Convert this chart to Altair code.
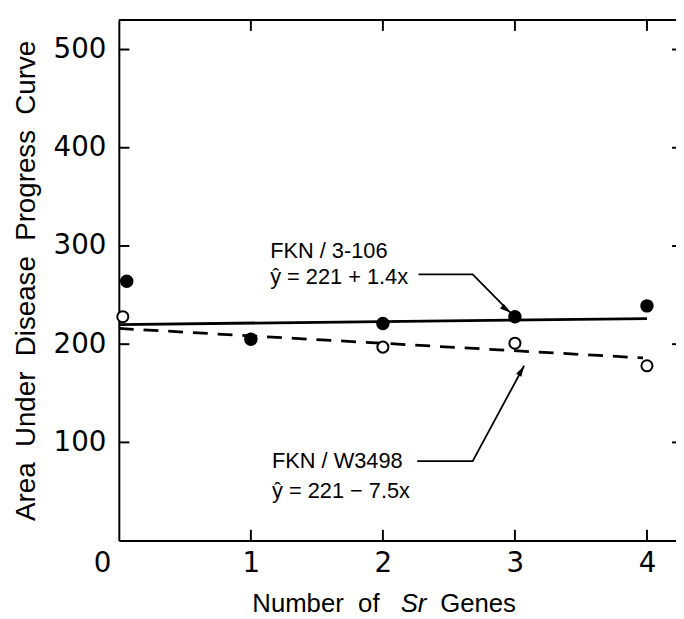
import altair as alt
import pandas as pd

# ---- data ----
genes_filled = [0.06, 1, 2, 3, 4]
auc_filled = [264, 205, 221, 228, 239]
genes_open = [0.03, 2, 3, 4]
auc_open = [228, 197, 201, 178]

solid_x = [0, 4]
solid_y = [220, 226]
dashed_x = [0, 3.97]
dashed_y = [216, 186]

x_ticks = [0, 1, 2, 3, 4]
y_ticks = [100, 200, 300, 400, 500]

ann_text = ["FKN / 3-106", "ŷ = 221 + 1.4x", "FKN / W3498", "ŷ = 221 − 7.5x"]
ann_x = [1.146, 1.146, 1.16, 1.16]
ann_y = [295, 268, 81, 50]

leader1_x = [2.27, 2.68, 2.966]
leader1_y = [271, 271, 232]
leader2_x = [2.26, 2.68, 3.07]
leader2_y = [81, 81, 178]

xtitle_parts = ["Number\u00a0\u00a0of", "Sr", "Genes"]
xtitle_x = [1.011, 2.135, 2.434]

X_MAX = 4.22
Y_MAX = 530
TICK_X = 0.08
TICK_Y = 11

# ---- scales / axes ----
xs = alt.Scale(domain=[0, X_MAX], nice=False, zero=False)
ys = alt.Scale(domain=[0, Y_MAX], nice=False, zero=False)

x_axis = alt.Axis(
    values=x_ticks, title=None, ticks=False, grid=False,
    domainColor="black", domainWidth=2,
    labelFont="DejaVu Sans", labelFontSize=28, labelColor="black",
    labelPadding=9, labelFlush=False,
    labelOffset={"condition": {"test": "datum.value == 0", "value": -17}, "value": 0},
)
y_axis = alt.Axis(
    values=y_ticks,
    title="Area\u00a0\u00a0Under\u00a0\u00a0Disease\u00a0\u00a0Progress\u00a0\u00a0Curve",
    titleFont="Liberation Sans", titleFontSize=28, titleFontWeight="normal",
    titleColor="black", titlePadding=13,
    ticks=False, grid=False, domainColor="black", domainWidth=2,
    labelFont="DejaVu Sans", labelFontSize=28, labelColor="black", labelPadding=13,
)

X = alt.X("x:Q", scale=xs, axis=x_axis)
Y = alt.Y("y:Q", scale=ys, axis=y_axis)

df_f = pd.DataFrame({"x": genes_filled, "y": auc_filled})
df_o = pd.DataFrame({"x": genes_open, "y": auc_open})
df_s = pd.DataFrame({"x": solid_x, "y": solid_y})
df_d = pd.DataFrame({"x": dashed_x, "y": dashed_y})
df_ann = pd.DataFrame({"x": ann_x, "y": ann_y, "t": ann_text})
df_lead = pd.DataFrame({
    "x": leader1_x + leader2_x,
    "y": leader1_y + leader2_y,
    "g": ["a"] * len(leader1_x) + ["b"] * len(leader2_x),
})
df_tip1 = pd.DataFrame({"x": [leader1_x[-1]], "y": [leader1_y[-1]]})
df_tip2 = pd.DataFrame({"x": [leader2_x[-1]], "y": [leader2_y[-1]]})

# inward tick marks and frame
df_tb = pd.DataFrame({"x": x_ticks[1:], "y": [0] * 4, "y2": [TICK_Y] * 4})
df_tt = pd.DataFrame({"x": x_ticks[1:], "y": [Y_MAX - TICK_Y] * 4, "y2": [Y_MAX] * 4})
df_tl = pd.DataFrame({"y": y_ticks, "x": [0] * 5, "x2": [TICK_X] * 5})
df_tr = pd.DataFrame({"y": y_ticks, "x": [X_MAX - 0.03] * 5, "x2": [X_MAX] * 5})
df_top = pd.DataFrame({"x": [0], "x2": [X_MAX], "y": [Y_MAX]})

df_xt = pd.DataFrame({"x": xtitle_x, "t": xtitle_parts})

base_rule = dict(color="black", strokeWidth=2)

layers = [
    alt.Chart(df_tb).mark_rule(**base_rule).encode(x=X, y=Y, y2="y2:Q"),
    alt.Chart(df_tt).mark_rule(**base_rule).encode(x=X, y=Y, y2="y2:Q"),
    alt.Chart(df_tl).mark_rule(**base_rule).encode(x=X, x2="x2:Q", y=Y),
    alt.Chart(df_tr).mark_rule(**base_rule).encode(x=X, x2="x2:Q", y=Y),
    alt.Chart(df_top).mark_rule(**base_rule).encode(x=X, x2="x2:Q", y=Y),
    alt.Chart(df_s).mark_line(color="black", strokeWidth=2.8).encode(x=X, y=Y),
    alt.Chart(df_d).mark_line(color="black", strokeWidth=2.8, strokeDash=[15, 10]).encode(x=X, y=Y),
    alt.Chart(df_o).mark_point(shape="circle", size=125, fill="white", stroke="black",
                               strokeWidth=2, opacity=1, fillOpacity=1).encode(x=X, y=Y),
    alt.Chart(df_f).mark_point(shape="circle", size=185, filled=True, color="black",
                               opacity=1).encode(x=X, y=Y),
    alt.Chart(df_lead).mark_line(color="black", strokeWidth=1.8).encode(x=X, y=Y, detail="g:N"),
    alt.Chart(df_tip1).mark_point(shape="M0,0L0.6,2.2L-0.6,2.2Z", size=100, filled=True,
                                  color="black", opacity=1, angle=128).encode(x=X, y=Y),
    alt.Chart(df_tip2).mark_point(shape="M0,0L0.6,2.2L-0.6,2.2Z", size=100, filled=True,
                                  color="black", opacity=1, angle=30).encode(x=X, y=Y),
    alt.Chart(df_ann).mark_text(align="left", baseline="middle", font="Liberation Sans",
                                fontSize=22, color="black").encode(x=X, y=Y, text="t:N"),
    alt.Chart(df_xt.iloc[[0, 2]]).mark_text(align="left", baseline="alphabetic",
                                            font="Liberation Sans", fontSize=26,
                                            color="black").encode(x=X, y=alt.value(598), text="t:N"),
    alt.Chart(df_xt.iloc[[1]]).mark_text(align="left", baseline="alphabetic",
                                         font="Liberation Sans", fontSize=26, fontStyle="italic",
                                         color="black").encode(x=X, y=alt.value(598), text="t:N"),
]

chart = alt.layer(*layers).properties(
    width=563,
    height=526,
    padding={"left": 112, "top": 9, "right": 0, "bottom": 74},
    autosize=alt.AutoSizeParams(type="none"),
    background="white",
).configure_view(stroke=None)

chart.save("out.html", embed_options={"renderer": "svg", "actions": False})
